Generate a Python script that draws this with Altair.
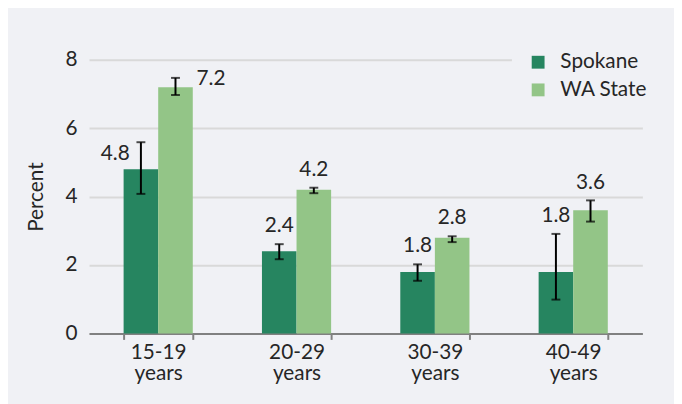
import altair as alt
import pandas as pd

categories = ["15-19 years", "20-29 years", "30-39 years", "40-49 years"]
series = ["Spokane", "WA State"]
spokane = [4.8, 2.4, 1.8, 1.8]
spokane_lo = [4.08, 2.17, 1.54, 0.99]
spokane_hi = [5.59, 2.61, 2.02, 2.91]
wa = [7.2, 4.2, 2.8, 3.6]
wa_lo = [6.97, 4.10, 2.67, 3.27]
wa_hi = [7.47, 4.26, 2.84, 3.89]
y_ticks = [0, 2, 4, 6, 8]

rows = []
for i, c in enumerate(categories):
    rows.append(dict(cat=c, series="Spokane", value=spokane[i], lo=spokane_lo[i],
                     hi=spokane_hi[i], label=f"{spokane[i]:.1f}"))
    rows.append(dict(cat=c, series="WA State", value=wa[i], lo=wa_lo[i],
                     hi=wa_hi[i], label=f"{wa[i]:.1f}"))
df = pd.DataFrame(rows)

FONT = "Lato"
FS = 21
BG = "#f0f1f5"
TXT = "#262626"

x = alt.X(
    "cat:N", sort=categories,
    scale=alt.Scale(paddingInner=0.5, paddingOuter=0.25),
    axis=alt.Axis(title=None, labelExpr="split(datum.label, ' ')", labelAngle=0,
                  tickBand="extent", domainColor="#808080", tickColor="#808080",
                  tickSize=6, domainWidth=2, tickWidth=2, labelFontSize=FS,
                  labelLineHeight=22, labelPadding=2, grid=False, labelColor=TXT,
                  labelFont=FONT),
)
xo = alt.XOffset("series:N", sort=series)
y = alt.Y(
    "value:Q", scale=alt.Scale(domain=[0, 8]),
    axis=alt.Axis(values=y_ticks, title="Percent", grid=True, gridColor="#d9d9d9",
                  gridWidth=2, domain=False, ticks=False, labelPadding=12,
                  titlePadding=19, labelFontSize=FS, titleFontSize=FS,
                  titleFontWeight="normal", labelColor=TXT, titleColor=TXT,
                  labelFont=FONT, titleFont=FONT),
)
color = alt.Color(
    "series:N", sort=series,
    scale=alt.Scale(domain=series, range=["#268560", "#93c587"]),
    legend=alt.Legend(title=None, orient="none", legendX=428, legendY=-24,
                      fillColor=BG, padding=16, symbolType="square",
                      symbolSize=169, labelFontSize=FS, labelOffset=12,
                      rowPadding=6, symbolStrokeWidth=0, labelColor=TXT,
                      labelFont=FONT),
)

base = alt.Chart(df)
bars = base.mark_bar().encode(x=x, xOffset=xo, y=y, color=color)
xs = alt.X("cat:N", sort=categories)
rules = base.mark_rule(color="black", strokeWidth=2).encode(
    x=xs, xOffset=xo, y="lo:Q", y2="hi:Q")
caps_hi = base.mark_tick(color="black", size=9, thickness=2).encode(
    x=xs, xOffset=xo, y="hi:Q")
caps_lo = base.mark_tick(color="black", size=9, thickness=2).encode(
    x=xs, xOffset=xo, y="lo:Q")

txt = dict(font=FONT, fontSize=FS, color=TXT, baseline="middle")
labels_top = base.transform_filter(f"datum.cat != '{categories[0]}'").mark_text(
    dy=-18, **txt).encode(x=xs, xOffset=xo, y="hi:Q", text="label:N")
labels_a = base.transform_filter(
    f"datum.cat == '{categories[0]}' && datum.series == 'Spokane'").mark_text(
    dx=-26, dy=-15, **txt).encode(x=xs, xOffset=xo, y="value:Q", text="label:N")
labels_b = base.transform_filter(
    f"datum.cat == '{categories[0]}' && datum.series == 'WA State'").mark_text(
    dx=36, dy=-8, **txt).encode(x=xs, xOffset=xo, y="value:Q", text="label:N")

chart = alt.layer(bars, rules, caps_hi, caps_lo, labels_top, labels_a, labels_b).properties(
    width=560, height=277,
    padding={"left": 82, "top": 50, "right": 32, "bottom": 69},
    autosize=alt.AutoSizeParams(type="none"),
    background=BG,
).configure_view(stroke=None)

chart.save("out.html", embed_options={"renderer": "svg", "actions": False})
